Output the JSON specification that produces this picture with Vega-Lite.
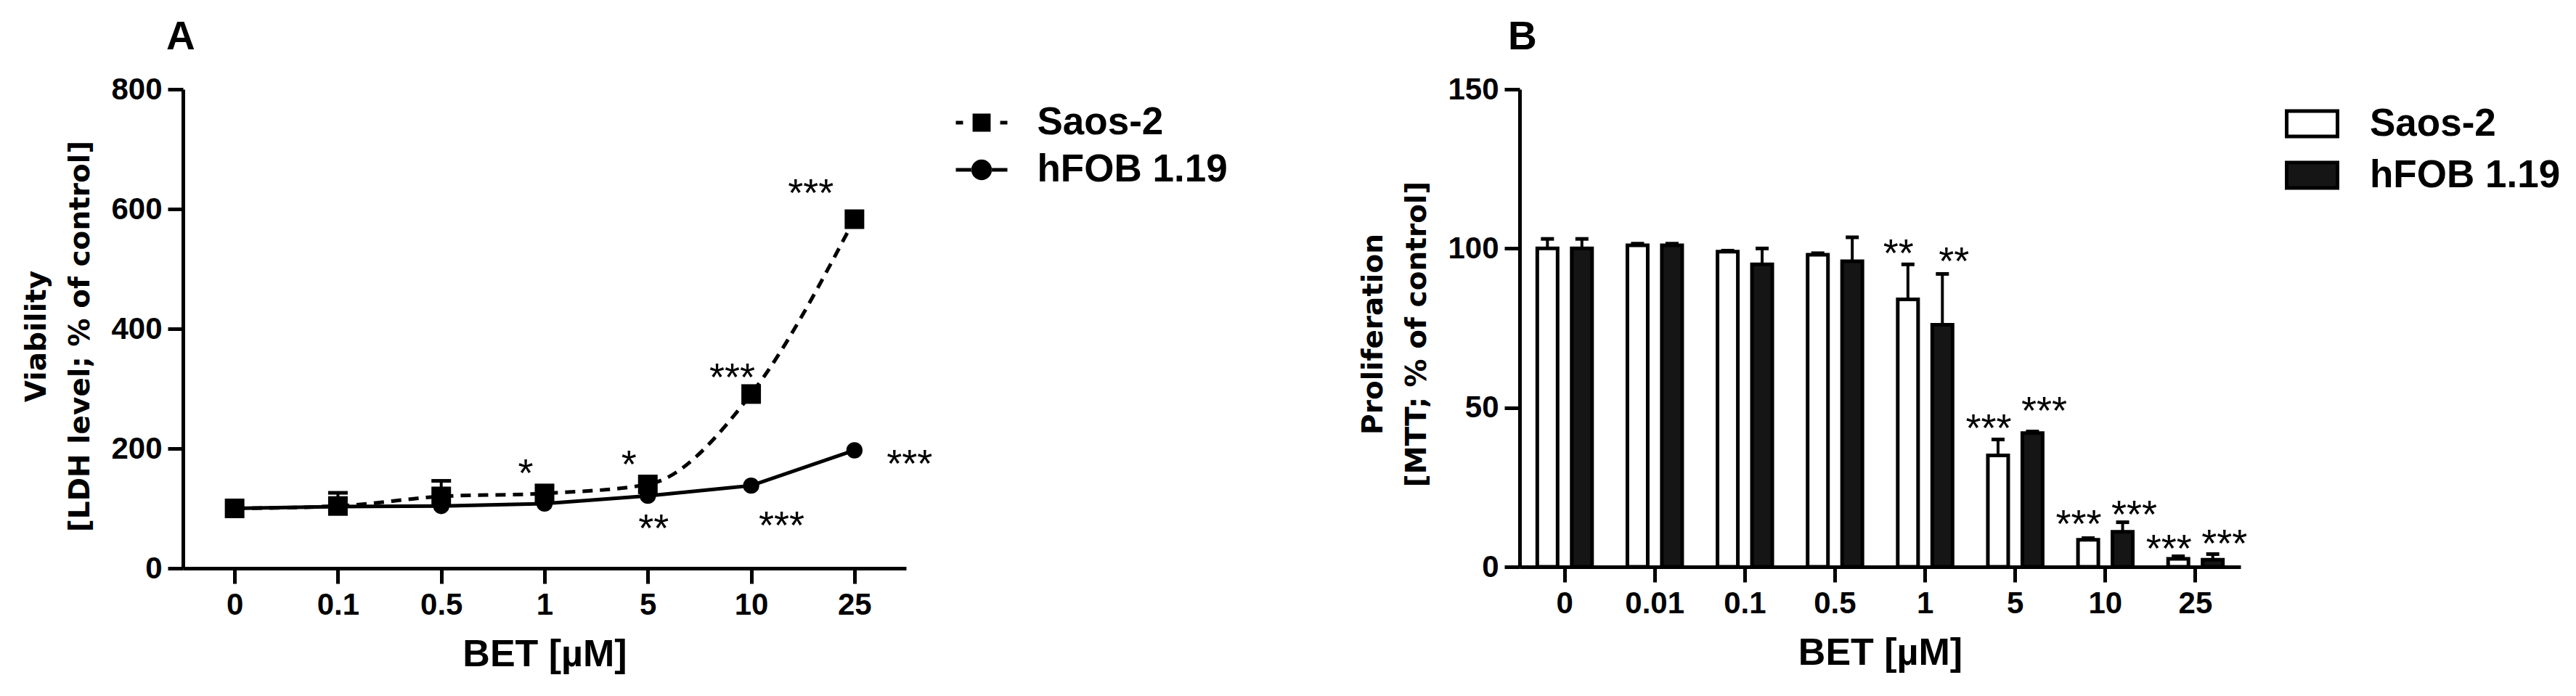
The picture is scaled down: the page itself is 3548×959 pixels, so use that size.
{
  "$schema": "https://vega.github.io/schema/vega-lite/v6.json",
  "background": "white",
  "padding": {"left": 31, "top": 24, "right": 10, "bottom": 10},
  "config": {
    "view": {"stroke": null},
    "axis": {"domainColor": "black", "domainWidth": 5, "tickColor": "black", "tickWidth": 5, "tickSize": 21, "labelFont": "Liberation Sans", "labelFontWeight": "bold", "labelFontSize": 42, "labelColor": "black", "grid": false, "titleColor": "black"},
    "axisX": {"labelAngle": 0, "labelPadding": 9, "titleFont": "Liberation Sans", "titleFontWeight": "bold", "titleFontSize": 52, "titlePadding": 22},
    "axisY": {"labelPadding": 8, "titleFont": "DejaVu Sans", "titleFontWeight": "bold", "titleFontSize": 39, "titleLineHeight": 60, "titlePadding": 22},
    "title": {"font": "Liberation Sans", "fontSize": 55, "fontWeight": "bold", "anchor": "start", "frame": "group", "color": "black", "baseline": "bottom", "offset": 22},
    "legend": {"labelFont": "Liberation Sans", "labelFontWeight": "bold", "labelFontSize": 53, "labelColor": "black", "labelLimit": 600, "orient": "none", "direction": "vertical"}
  },
  "resolve": {
    "scale": {"xOffset": "independent", "fill": "independent", "shape": "independent"},
    "legend": {"fill": "independent", "shape": "independent"}
  },
  "datasets": {
    "ldh": [
      {"dose": "0", "cell": "Saos-2", "mean": 100},
      {"dose": "0.1", "cell": "Saos-2", "mean": 104, "upper": 126},
      {"dose": "0.5", "cell": "Saos-2", "mean": 120, "upper": 146},
      {"dose": "1", "cell": "Saos-2", "mean": 125},
      {"dose": "5", "cell": "Saos-2", "mean": 140},
      {"dose": "10", "cell": "Saos-2", "mean": 291},
      {"dose": "25", "cell": "Saos-2", "mean": 583},
      {"dose": "0", "cell": "hFOB 1.19", "mean": 100},
      {"dose": "0.1", "cell": "hFOB 1.19", "mean": 103},
      {"dose": "0.5", "cell": "hFOB 1.19", "mean": 104},
      {"dose": "1", "cell": "hFOB 1.19", "mean": 108},
      {"dose": "5", "cell": "hFOB 1.19", "mean": 121},
      {"dose": "10", "cell": "hFOB 1.19", "mean": 138},
      {"dose": "25", "cell": "hFOB 1.19", "mean": 197}
    ],
    "ldhStars": [
      {"dose": "1", "sig": "*", "at": 175, "pos": "L"},
      {"dose": "5", "sig": "*", "at": 189, "pos": "L"},
      {"dose": "5", "sig": "**", "at": 82, "pos": "R"},
      {"dose": "10", "sig": "***", "at": 334, "pos": "L"},
      {"dose": "10", "sig": "***", "at": 87, "pos": "RR"},
      {"dose": "25", "sig": "***", "at": 642, "pos": "LL"},
      {"dose": "25", "sig": "***", "at": 190, "pos": "RRR"}
    ],
    "mtt": [
      {"dose": "0", "cell": "Saos-2", "mean": 100, "upper": 103},
      {"dose": "0", "cell": "hFOB 1.19", "mean": 100, "upper": 103},
      {"dose": "0.01", "cell": "Saos-2", "mean": 101, "upper": 101.5},
      {"dose": "0.01", "cell": "hFOB 1.19", "mean": 101, "upper": 101.5},
      {"dose": "0.1", "cell": "Saos-2", "mean": 99, "upper": 99.3},
      {"dose": "0.1", "cell": "hFOB 1.19", "mean": 95, "upper": 100},
      {"dose": "0.5", "cell": "Saos-2", "mean": 98, "upper": 98.5},
      {"dose": "0.5", "cell": "hFOB 1.19", "mean": 96, "upper": 103.5},
      {"dose": "1", "cell": "Saos-2", "mean": 84, "upper": 95},
      {"dose": "1", "cell": "hFOB 1.19", "mean": 76, "upper": 92},
      {"dose": "5", "cell": "Saos-2", "mean": 35, "upper": 40},
      {"dose": "5", "cell": "hFOB 1.19", "mean": 42, "upper": 42.5},
      {"dose": "10", "cell": "Saos-2", "mean": 8.5, "upper": 9},
      {"dose": "10", "cell": "hFOB 1.19", "mean": 11, "upper": 14},
      {"dose": "25", "cell": "Saos-2", "mean": 2.5, "upper": 3.3},
      {"dose": "25", "cell": "hFOB 1.19", "mean": 2.2, "upper": 4}
    ],
    "mttStars": [
      {"dose": "1", "cell": "Saos-2", "sig": "**", "at": 101.5},
      {"dose": "1", "cell": "hFOB 1.19", "sig": "**", "at": 98.9},
      {"dose": "5", "cell": "Saos-2", "sig": "***", "at": 46.4},
      {"dose": "5", "cell": "hFOB 1.19", "sig": "***", "at": 51.9},
      {"dose": "10", "cell": "Saos-2", "sig": "***", "at": 16.3},
      {"dose": "10", "cell": "hFOB 1.19", "sig": "***", "at": 19.4},
      {"dose": "25", "cell": "Saos-2", "sig": "***", "at": 8.7},
      {"dose": "25", "cell": "hFOB 1.19", "sig": "***", "at": 10.2}
    ]
  },
  "spacing": 180,
  "hconcat": [
    {
      "width": 996,
      "height": 660,
      "title": {"text": "A", "dx": -23},
      "layer": [
        {
          "data": {"name": "ldh"},
          "transform": [{"filter": "datum.cell === 'hFOB 1.19'"}],
          "mark": {"type": "line", "strokeWidth": 5, "color": "black"},
          "encoding": {
            "x": {"field": "dose", "type": "ordinal", "sort": ["0", "0.1", "0.5", "1", "5", "10", "25"], "scale": {"type": "point", "padding": 0.5}, "axis": {"title": "BET [µM]"}},
            "y": {"field": "mean", "type": "quantitative", "scale": {"domain": [0, 800], "nice": false}, "axis": {"values": [0, 200, 400, 600, 800], "titleY": 340, "title": ["Viability", "[LDH level; % of control]"]}}
          }
        },
        {
          "data": {"name": "ldh"},
          "transform": [{"filter": "datum.cell === 'Saos-2'"}],
          "mark": {"type": "line", "strokeWidth": 5, "color": "black", "strokeDash": [14, 10], "interpolate": "monotone"},
          "encoding": {
            "x": {"field": "dose", "type": "ordinal", "sort": ["0", "0.1", "0.5", "1", "5", "10", "25"]},
            "y": {"field": "mean", "type": "quantitative"}
          }
        },
        {
          "data": {"name": "ldh"},
          "transform": [{"filter": "isValid(datum.upper)"}],
          "mark": {"type": "rule", "strokeWidth": 4, "color": "black"},
          "encoding": {
            "x": {"field": "dose", "type": "ordinal", "sort": ["0", "0.1", "0.5", "1", "5", "10", "25"]},
            "y": {"field": "mean", "type": "quantitative"},
            "y2": {"field": "upper"}
          }
        },
        {
          "data": {"name": "ldh"},
          "transform": [{"filter": "isValid(datum.upper)"}],
          "mark": {"type": "tick", "orient": "horizontal", "size": 27, "thickness": 5, "color": "black", "opacity": 1},
          "encoding": {
            "x": {"field": "dose", "type": "ordinal", "sort": ["0", "0.1", "0.5", "1", "5", "10", "25"]},
            "y": {"field": "upper", "type": "quantitative"}
          }
        },
        {
          "data": {"name": "ldh"},
          "transform": [{"filter": "datum.cell === 'hFOB 1.19'"}],
          "mark": {"type": "point", "shape": "circle", "filled": true, "size": 500, "color": "black", "opacity": 1},
          "encoding": {
            "x": {"field": "dose", "type": "ordinal", "sort": ["0", "0.1", "0.5", "1", "5", "10", "25"]},
            "y": {"field": "mean", "type": "quantitative"}
          }
        },
        {
          "data": {"name": "ldh"},
          "transform": [{"filter": "datum.cell === 'Saos-2'"}],
          "mark": {"type": "point", "shape": "square", "filled": true, "size": 729, "color": "black", "opacity": 1},
          "encoding": {
            "x": {"field": "dose", "type": "ordinal", "sort": ["0", "0.1", "0.5", "1", "5", "10", "25"]},
            "y": {"field": "mean", "type": "quantitative"}
          }
        },
        {
          "data": {"name": "ldh"},
          "transform": [{"filter": "false"}],
          "mark": {"type": "point", "filled": true, "size": 5041, "color": "black", "opacity": 1, "strokeWidth": 0},
          "encoding": {
            "x": {"field": "dose", "type": "ordinal", "sort": ["0", "0.1", "0.5", "1", "5", "10", "25"]},
            "y": {"field": "mean", "type": "quantitative"},
            "shape": {
              "field": "cell", "type": "nominal",
              "scale": {"domain": ["Saos-2", "hFOB 1.19"], "range": ["M-1,-0.07H-0.72V0.07H-1Z M0.72,-0.07H1V0.07H0.72Z M-0.35,-0.35H0.35V0.35H-0.35Z", "M-1,-0.07H-0.39V0.07H-1Z M0.39,-0.07H1V0.07H0.39Z M-0.4,0A0.4,0.4 0 1,0 0.4,0A0.4,0.4 0 1,0 -0.4,0Z"]},
              "legend": {"title": null, "legendX": 1064.5, "legendY": 10.5, "symbolSize": 5041, "symbolStrokeWidth": 0, "symbolFillColor": "black", "symbolOpacity": 1, "labelOffset": 41, "rowPadding": 2}
            }
          }
        },
        {
          "data": {"name": "ldhStars"},
          "mark": {"type": "text", "font": "Liberation Sans", "fontSize": 54, "baseline": "middle", "align": "center", "dy": 15, "color": "black"},
          "encoding": {
            "x": {"field": "dose", "type": "ordinal", "sort": ["0", "0.1", "0.5", "1", "5", "10", "25"]},
            "xOffset": {"field": "pos", "type": "nominal", "scale": {"type": "point", "domain": ["LL", "L", "R", "RR", "RRR"], "range": [-60, 76], "padding": 0}},
            "y": {"field": "at", "type": "quantitative"},
            "text": {"field": "sig"}
          }
        }
      ]
    },
    {
      "width": 993,
      "height": 658,
      "title": {"text": "B", "dx": -16},
      "layer": [
        {
          "data": {"name": "mtt"},
          "mark": {"type": "bar", "stroke": "black", "strokeWidth": 5},
          "encoding": {
            "x": {"field": "dose", "type": "ordinal", "sort": ["0", "0.01", "0.1", "0.5", "1", "5", "10", "25"], "scale": {"type": "band", "paddingInner": 0.35, "paddingOuter": 0.175}, "axis": {"title": "BET [µM]"}},
            "xOffset": {"field": "cell", "type": "nominal", "sort": ["Saos-2", "hFOB 1.19"], "scale": {"paddingInner": 0.41, "paddingOuter": 0.055}},
            "y": {"field": "mean", "type": "quantitative", "scale": {"domain": [0, 150], "nice": false}, "axis": {"values": [0, 50, 100, 150], "titleY": 337, "title": ["Proliferation", "[MTT; % of control]"]}},
            "fill": {
              "field": "cell", "type": "nominal", "sort": ["Saos-2", "hFOB 1.19"],
              "scale": {"domain": ["Saos-2", "hFOB 1.19"], "range": ["white", "#151515"]},
              "legend": {"title": null, "legendX": 1054, "legendY": 10, "symbolType": "M-1,-0.5H1V0.5H-1Z", "symbolSize": 4900, "symbolStrokeWidth": 5, "symbolStrokeColor": "black", "symbolOpacity": 1, "labelOffset": 42, "rowPadding": 6}
            }
          }
        },
        {
          "data": {"name": "mtt"},
          "mark": {"type": "rule", "strokeWidth": 4, "color": "black"},
          "encoding": {
            "x": {"field": "dose", "type": "ordinal", "sort": ["0", "0.01", "0.1", "0.5", "1", "5", "10", "25"]},
            "xOffset": {"field": "cell", "type": "nominal", "sort": ["Saos-2", "hFOB 1.19"]},
            "y": {"field": "mean", "type": "quantitative"},
            "y2": {"field": "upper"}
          }
        },
        {
          "data": {"name": "mtt"},
          "mark": {"type": "tick", "orient": "horizontal", "size": 18, "thickness": 5, "color": "black", "opacity": 1},
          "encoding": {
            "x": {"field": "dose", "type": "ordinal", "sort": ["0", "0.01", "0.1", "0.5", "1", "5", "10", "25"]},
            "xOffset": {"field": "cell", "type": "nominal", "sort": ["Saos-2", "hFOB 1.19"]},
            "y": {"field": "upper", "type": "quantitative"}
          }
        },
        {
          "data": {"name": "mttStars"},
          "transform": [{"filter": "datum.cell === 'Saos-2'"}],
          "mark": {"type": "text", "font": "Liberation Sans", "fontSize": 54, "baseline": "middle", "align": "center", "dy": 15, "dx": -13, "color": "black"},
          "encoding": {
            "x": {"field": "dose", "type": "ordinal", "sort": ["0", "0.01", "0.1", "0.5", "1", "5", "10", "25"]},
            "xOffset": {"field": "cell", "type": "nominal", "sort": ["Saos-2", "hFOB 1.19"]},
            "y": {"field": "at", "type": "quantitative"},
            "text": {"field": "sig"}
          }
        },
        {
          "data": {"name": "mttStars"},
          "transform": [{"filter": "datum.cell === 'hFOB 1.19'"}],
          "mark": {"type": "text", "font": "Liberation Sans", "fontSize": 54, "baseline": "middle", "align": "center", "dy": 15, "dx": 16, "color": "black"},
          "encoding": {
            "x": {"field": "dose", "type": "ordinal", "sort": ["0", "0.01", "0.1", "0.5", "1", "5", "10", "25"]},
            "xOffset": {"field": "cell", "type": "nominal", "sort": ["Saos-2", "hFOB 1.19"]},
            "y": {"field": "at", "type": "quantitative"},
            "text": {"field": "sig"}
          }
        }
      ]
    }
  ]
}
